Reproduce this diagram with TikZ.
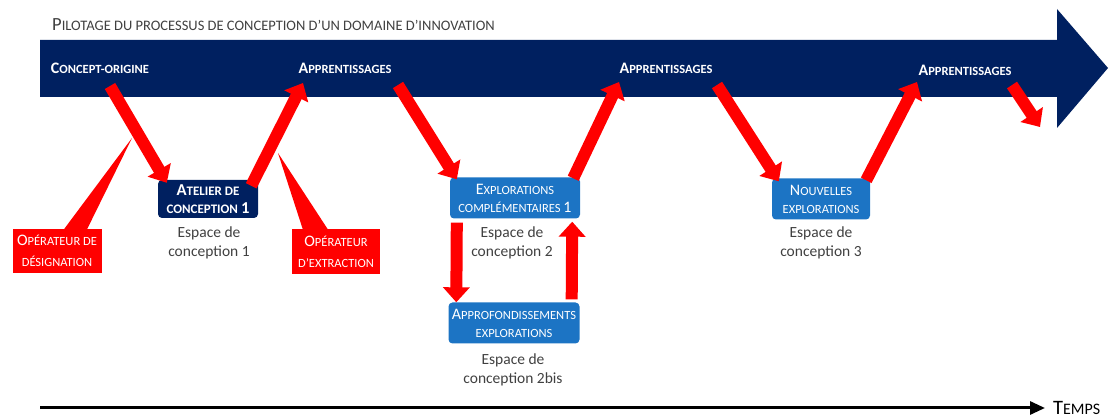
\documentclass[tikz,border=0pt]{standalone}
\usepackage{fontspec}
\setmainfont{Carlito}
\usetikzlibrary{arrows.meta,positioning,calc}

\definecolor{bandblue}{HTML}{002060}
\definecolor{boxblue}{HTML}{1C74C4}
\definecolor{opred}{HTML}{FF0000}
\definecolor{textgray}{HTML}{404040}

% capitale plus grande pour les petites capitales
\newcommand\Up[1]{{\fontsize{1.28em}{1em}\selectfont#1}}

\begin{document}
\begin{tikzpicture}[
    x=1pt, y=-1pt,
    >=Latex,
    bandlabel/.style={
        text=white,
        inner sep=0pt,
        font=\bfseries\fontsize{12.5}{15}\selectfont
    },
    darkbox/.style={
        fill=bandblue,
        rounded corners=4pt,
        text=white,
        align=center,
        inner sep=1pt,
        minimum width=100pt,
        minimum height=38pt,
        font=\bfseries\fontsize{13}{18}\selectfont
    },
    lightbox/.style={
        darkbox,
        fill=boxblue,
        minimum width=130pt,
        minimum height=41pt,
        font=\fontsize{12.5}{18}\selectfont
    },
    espace/.style={
        align=center,
        text=textgray,
        font=\fontsize{15.5}{19.5}\selectfont
    },
    operateur/.style={
        fill=opred,
        text=white,
        align=center,
        inner sep=0pt,
        font=\fontsize{12.5}{21}\selectfont
    },
    redarrow/.style={
        draw=opred,
        line width=12pt,
        -{Triangle[length=15pt,width=26pt]}
    }
]
\useasboundingbox (0,0) rectangle (1109,419);

% ------------------------------------------------
% Bandeau
% ------------------------------------------------

\node[anchor=base west, inner sep=0pt, text=textgray,
      font=\fontsize{14.5}{16}\selectfont] (titre) at (52,31)
    {\Up{P}ILOTAGE DU PROCESSUS DE CONCEPTION D’UN DOMAINE D’INNOVATION};

\fill[bandblue] (40,40) -- (1057,40) -- (1057,9) -- (1108,68)
    -- (1057,128) -- (1057,97) -- (40,97) -- cycle;

\node[bandlabel] (origine) at (100,68) {\Up{C}ONCEPT-ORIGINE};
\node[bandlabel] (app1) at (345,68) {\Up{A}PPRENTISSAGES};
\node[bandlabel] (app2) at (666,68) {\Up{A}PPRENTISSAGES};
\node[bandlabel] (app3) at (965,70) {\Up{A}PPRENTISSAGES};

\coordinate (b1) at (110,86);
\coordinate (b2) at (303,83);
\coordinate (b3) at (398,85);
\coordinate (b4) at (619,82);
\coordinate (b5) at (717,85);
\coordinate (b6) at (917,82);
\coordinate (b7) at (1012,85);
\coordinate (b8) at (1040,127);

% ------------------------------------------------
% Espaces de conception
% ------------------------------------------------

\node[darkbox] (atelier) at (208,199)
    {\Up{A}TELIER DE\\CONCEPTION \Up{1}};
\node[lightbox] (explo) at (515,198)
    {\Up{E}XPLORATIONS\\COMPLÉMENTAIRES \Up{1}};
\node[lightbox, minimum width=131pt] (approf) at (514,323)
    {\Up{A}PPROFONDISSEMENTS\\EXPLORATIONS};
\node[lightbox, minimum width=98pt] (nouv) at (821,199)
    {\Up{N}OUVELLES\\EXPLORATIONS};

\node[espace] (esp1) at (209,243) {Espace de\\conception 1};
\node[espace] (esp2) at (512,243) {Espace de\\conception 2};
\node[espace] (esp2bis) at (513,370) {Espace de\\conception 2bis};
\node[espace] (esp3) at (821,243) {Espace de\\conception 3};

% ------------------------------------------------
% Operateurs
% ------------------------------------------------

\node[operateur, minimum width=89pt, minimum height=44pt] (desig) at (57,251)
    {\Up{O}PÉRATEUR DE\\DÉSIGNATION};
\node[operateur, minimum width=88pt, minimum height=45pt] (extr) at (336,252)
    {\Up{O}PÉRATEUR\\D’EXTRACTION};

\coordinate (a1) at (132,138);
\coordinate (a2) at (278,153);

\fill[opred] ([xshift=52pt]desig.north west) -- (a1)
    -- ([xshift=75pt]desig.north west) -- cycle;
\fill[opred] ([xshift=11pt]extr.north west) -- (a2)
    -- ([xshift=36pt]extr.north west) -- cycle;

% ------------------------------------------------
% Fleches
% ------------------------------------------------

\draw[redarrow] (b1) -- ([xshift=9pt,yshift=-3pt]atelier.north west);
\draw[redarrow] ([xshift=-7pt,yshift=-6pt]atelier.north east) -- (b2);
\draw[redarrow] (b3) -- ([xshift=7pt,yshift=-2pt]explo.north west);
\draw[redarrow] ([xshift=-7pt,yshift=-1pt]explo.north east) -- (b4);
\draw[redarrow] (b5) -- ([xshift=7pt,yshift=-3pt]nouv.north west);
\draw[redarrow] ([xshift=-4pt,yshift=-2pt]nouv.north east) -- (b6);
\draw[redarrow] (b7) -- (b8);

% Approfondissement aller-retour
\draw[redarrow] ([xshift=7pt,yshift=-4pt]explo.south west)
    -- ([xshift=8pt]approf.north west);
\draw[redarrow] ([xshift=-8pt,yshift=3pt]approf.north east)
    -- ([xshift=-8pt,yshift=-3pt]explo.south east);

% ------------------------------------------------
% Temps
% ------------------------------------------------

\node[anchor=west, inner sep=0pt, text=black,
      font=\fontsize{16}{18}\selectfont] (temps) at (1053,408)
    {\Up{T}EMPS};
\coordinate (t0) at (40,408);
\draw[line width=3pt, -{Triangle[length=15pt,width=13pt]}]
    (t0) -- ([xshift=-8pt]temps.west);

\end{tikzpicture}
\end{document}
